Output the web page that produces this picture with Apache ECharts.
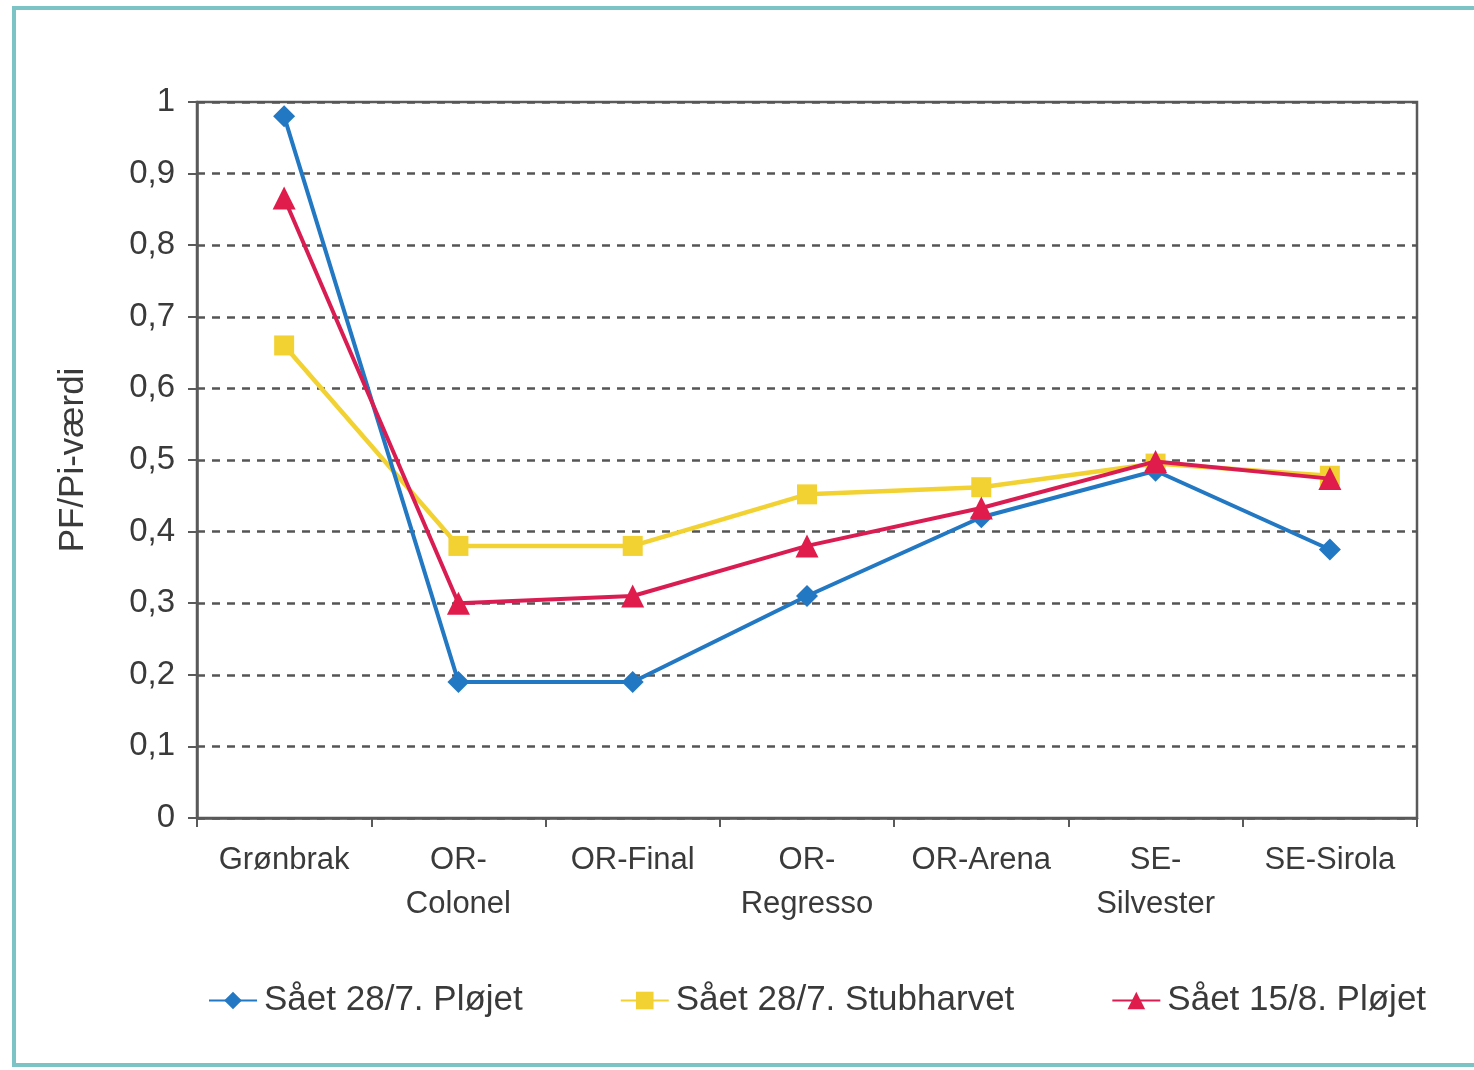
<!DOCTYPE html>
<html>
<head>
<meta charset="utf-8">
<script src="https://cdn.jsdelivr.net/npm/echarts@6/dist/echarts.min.js"></script>
<style>
  html, body { margin: 0; padding: 0; background: #ffffff; }
  #chart { width: 1474px; height: 1070px; }
</style>
</head>
<body>
<div id="chart"></div>
<script>
// sorter og saetidspunkter
var categories = ["Grønbrak", "OR-\nColonel", "OR-Final", "OR-\nRegresso", "OR-Arena", "SE-\nSilvester", "SE-Sirola"];
var ploejet287 = [0.98, 0.19, 0.19, 0.31, 0.42, 0.485, 0.375];
var stubharvet287 = [0.66, 0.38, 0.38, 0.452, 0.462, 0.495, 0.478];
var ploejet158 = [0.866, 0.30, 0.31, 0.38, 0.433, 0.498, 0.474];
var seriesNames = ["Sået 28/7. Pløjet", "Sået 28/7. Stubharvet", "Sået 15/8. Pløjet"];

var font = "'Liberation Sans', Arial, sans-serif";
var txt = "#3a3a3a";
var axisCol = "#5a5a5a";

var myChart = echarts.init(document.getElementById("chart"));
myChart.setOption({
  backgroundColor: "#ffffff",
  animation: false,
  graphic: [
    {
      type: "rect",
      shape: { x: 14, y: 8, width: 1480, height: 1057 },
      style: { fill: "none", stroke: "#7cc3c6", lineWidth: 4 },
      z: 0
    }
  ],
  grid: {
    left: 197,
    right: 57,
    top: 102,
    bottom: 252,
    show: true,
    borderColor: axisCol,
    borderWidth: 2.5,
    backgroundColor: "transparent"
  },
  legend: {
    left: 203,
    top: 978,
    itemGap: 97,
    itemWidth: 48,
    itemHeight: 22,
    data: seriesNames,
    textStyle: { fontFamily: font, fontSize: 35, color: txt, padding: [0, 0, 0, 2] }
  },
  xAxis: {
    type: "category",
    data: categories,
    boundaryGap: true,
    axisLine: { lineStyle: { color: axisCol, width: 2.5 } },
    axisTick: { show: true, length: 9, lineStyle: { color: axisCol, width: 2 } },
    axisLabel: {
      interval: 0,
      margin: 20,
      color: txt,
      fontFamily: font,
      fontSize: 31,
      lineHeight: 44
    }
  },
  yAxis: {
    type: "value",
    min: 0,
    max: 1,
    interval: 0.1,
    name: "PF/Pi-værdi",
    nameLocation: "middle",
    nameRotate: 90,
    nameGap: 106,
    nameTextStyle: { fontFamily: font, fontSize: 35, color: txt },
    axisLine: { show: true, lineStyle: { color: axisCol, width: 2.5 } },
    axisTick: { show: true, length: 9, lineStyle: { color: axisCol, width: 2 } },
    axisLabel: {
      margin: 22,
      color: txt,
      fontFamily: font,
      fontSize: 33,
      formatter: function (v) { return String(Math.round(v * 10) / 10).replace(".", ","); }
    },
    splitLine: { show: true, lineStyle: { color: "#555555", width: 2.5, type: [8, 7] } }
  },
  series: [
    {
      name: seriesNames[0],
      type: "line",
      data: ploejet287,
      symbol: "diamond",
      symbolSize: 22,
      color: "#2278c3",
      lineStyle: { width: 4, color: "#2278c3" },
      z: 4
    },
    {
      name: seriesNames[1],
      type: "line",
      data: stubharvet287,
      symbol: "rect",
      symbolSize: 20,
      color: "#f2d232",
      lineStyle: { width: 4.5, color: "#f2d232" },
      z: 3
    },
    {
      name: seriesNames[2],
      type: "line",
      data: ploejet158,
      symbol: "triangle",
      symbolSize: 23,
      color: "#e01c4c",
      lineStyle: { width: 4, color: "#d91d52" },
      z: 5
    }
  ]
});
</script>
</body>
</html>
